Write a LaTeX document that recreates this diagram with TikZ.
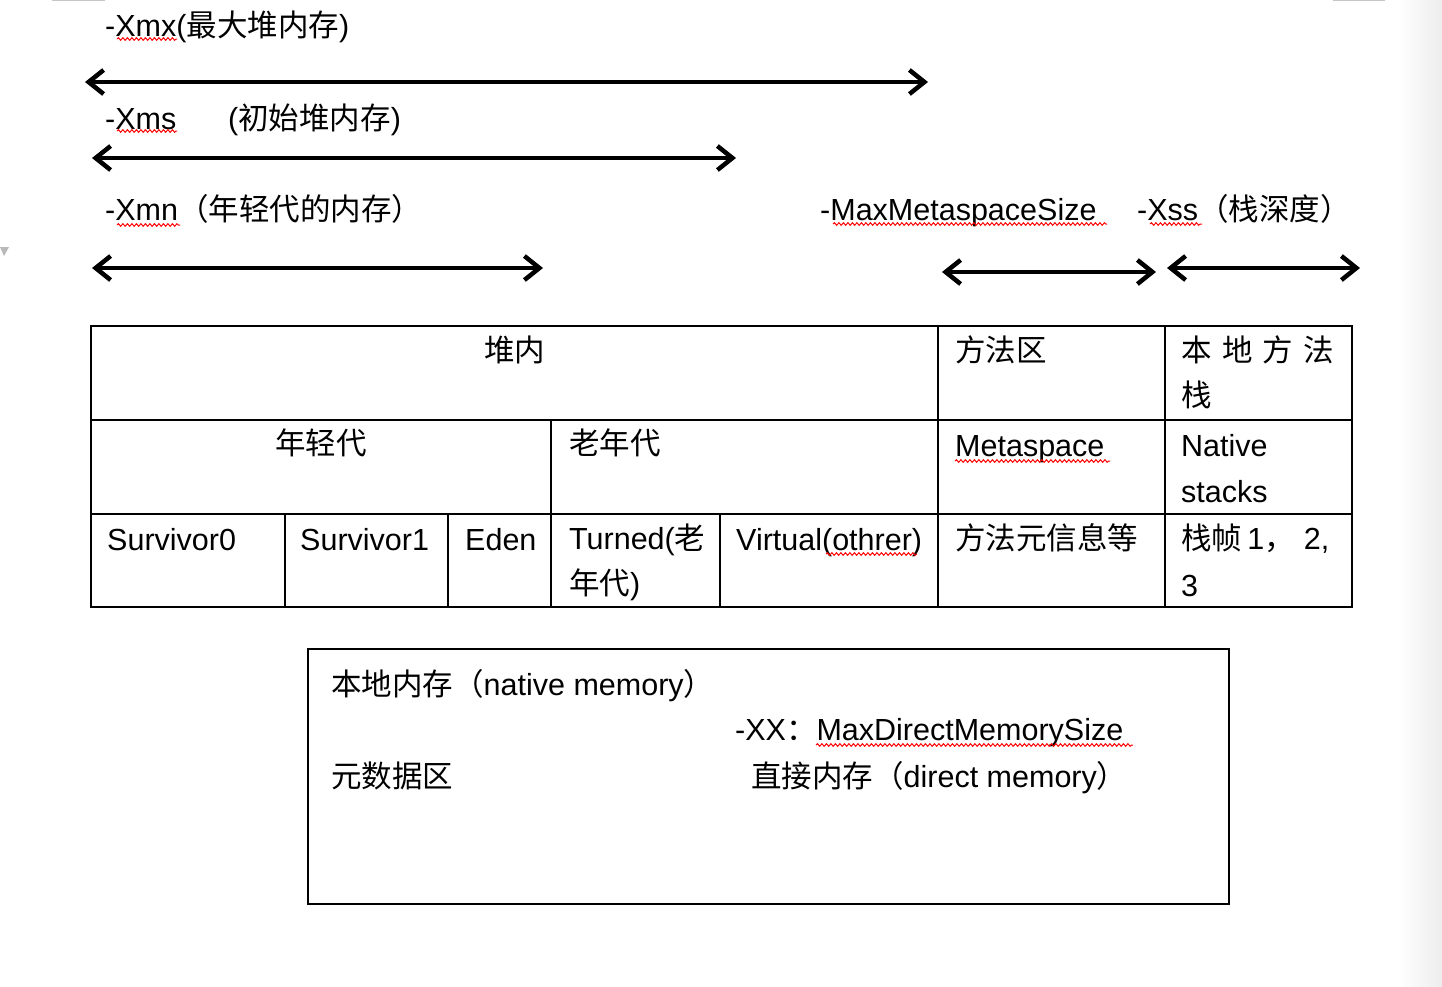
\documentclass[tikz,border=0pt]{standalone}
\usepackage{fontspec}
\setmainfont{Liberation Sans}
\newfontfamily\cjk{Noto Sans CJK SC}
\newcommand\zh[1]{{\cjk #1}}
\usetikzlibrary{arrows.meta,decorations.pathmorphing}
\begin{document}
\begin{tikzpicture}[x=1pt,y=-1pt,
  txt/.style={anchor=base west,inner sep=0pt,font=\fontsize{30.5}{36}\selectfont},
  ctxt/.style={anchor=base,inner sep=0pt,font=\fontsize{30.5}{36}\selectfont},
  dbl/.style={line width=4.5pt,{Straight Barb[length=15pt,width=24pt]}-{Straight Barb[length=15pt,width=24pt]}},
  grid/.style={line width=2pt},
  squig/.style={red,line width=1pt,decorate,decoration={snake,amplitude=1.3pt,segment length=4.5pt}}]
\useasboundingbox (0,0) rectangle (1442,986);
% page artefacts
\shade[left color=white,right color=black!7] (1398,0) rectangle (1442,986);
\draw[gray!45,line width=2pt] (52,0) -- (105,0);
\draw[gray!45,line width=2pt] (1333,0) -- (1385,0);
\fill[gray!55] (0,247) -- (9,247) -- (4,256) -- cycle;

% option labels
\node[txt] (xmx) at (105,36) {-Xmx(\zh{最大堆内存})};
\node[txt] (xms) at (105,129) {-Xms};
\node[txt] (xmsl) at (228,129) {(\zh{初始堆内存})};
\node[txt] (xmn) at (105,220) {-Xmn\zh{（年轻代的内存）}};
\node[txt] (mms) at (820,220) {-MaxMetaspaceSize};
\node[txt] (xss) at (1137,220) {-Xss\zh{（栈深度）}};
\draw[squig] (117,39) -- (177,39);
\draw[squig] (117,131) -- (177,131);
\draw[squig] (117,225) -- (180,225);
\draw[squig] (833,224) -- (1107,224);
\draw[squig] (1150,224) -- (1202,224);

% range arrows
\coordinate (a1l) at (85,82);  \coordinate (a1r) at (928,82);
\coordinate (a2l) at (92,158); \coordinate (a2r) at (736,158);
\coordinate (a3l) at (92,268); \coordinate (a3r) at (543,268);
\coordinate (a4l) at (942,272); \coordinate (a4r) at (1156,272);
\coordinate (a5l) at (1167,268); \coordinate (a5r) at (1360,268);
\draw[dbl] (a1l) -- (a1r);
\draw[dbl] (a2l) -- (a2r);
\draw[dbl] (a3l) -- (a3r);
\draw[dbl] (a4l) -- (a4r);
\draw[dbl] (a5l) -- (a5r);

% table grid
\draw[grid] (91,326) rectangle (1352,607);
\draw[grid] (91,420) -- (1352,420);
\draw[grid] (91,514) -- (1352,514);
\draw[grid] (938,326) -- (938,607);
\draw[grid] (1165,326) -- (1165,607);
\draw[grid] (551,420) -- (551,607);
\draw[grid] (285,514) -- (285,607);
\draw[grid] (448,514) -- (448,607);
\draw[grid] (720,514) -- (720,607);

% table texts
\node[ctxt] (heap) at (514.5,361) {\zh{堆内}};
\node[txt] (method) at (955,361) {\zh{方法区}};
\node[txt] (native1) at (1181,361) {\zh{\makebox[153pt][s]{本\hfill 地\hfill 方\hfill 法}}};
\node[txt] (native2) at (1181,406) {\zh{栈}};
\node[ctxt] (young) at (321,454) {\zh{年轻代}};
\node[txt] (old) at (569,454) {\zh{老年代}};
\node[txt] (meta) at (955,456) {Metaspace};
\node[txt] (ns1) at (1181,456) {Native};
\node[txt] (ns2) at (1181,502) {stacks};
\node[txt] (s0) at (107,550) {Survivor0};
\node[txt] (s1) at (300,550) {Survivor1};
\node[txt] (eden) at (465,550) {Eden};
\node[txt] (turned1) at (569,549) {Turned(\zh{老}};
\node[txt] (turned2) at (569,594) {\zh{年代})};
\node[txt] (virt) at (736,550) {Virtual(othrer)};
\node[txt] (minfo) at (955,549) {\zh{方法元信息等}};
\node[txt] (frame1) at (1181,549) {\zh{栈帧}\,1\zh{，}\hspace{0.3em}2,};
\node[txt] (frame2) at (1181,596) {3};
\draw[squig] (955,461) -- (1110,461);
\draw[squig] (826,554) -- (917,554);

% native memory box
\draw[grid] (308,649) rectangle (1229,904);
\node[txt] (nm) at (331,695) {\zh{本地内存（}native memory\zh{）}};
\node[txt] (xx) at (735,740) {-XX\zh{：}MaxDirectMemorySize};
\node[txt] (md) at (331,787) {\zh{元数据区}};
\node[txt] (dm) at (751,787) {\zh{直接内存（}direct memory\zh{）}};
\draw[squig] (816,745) -- (1133,745);
\end{tikzpicture}
\end{document}
